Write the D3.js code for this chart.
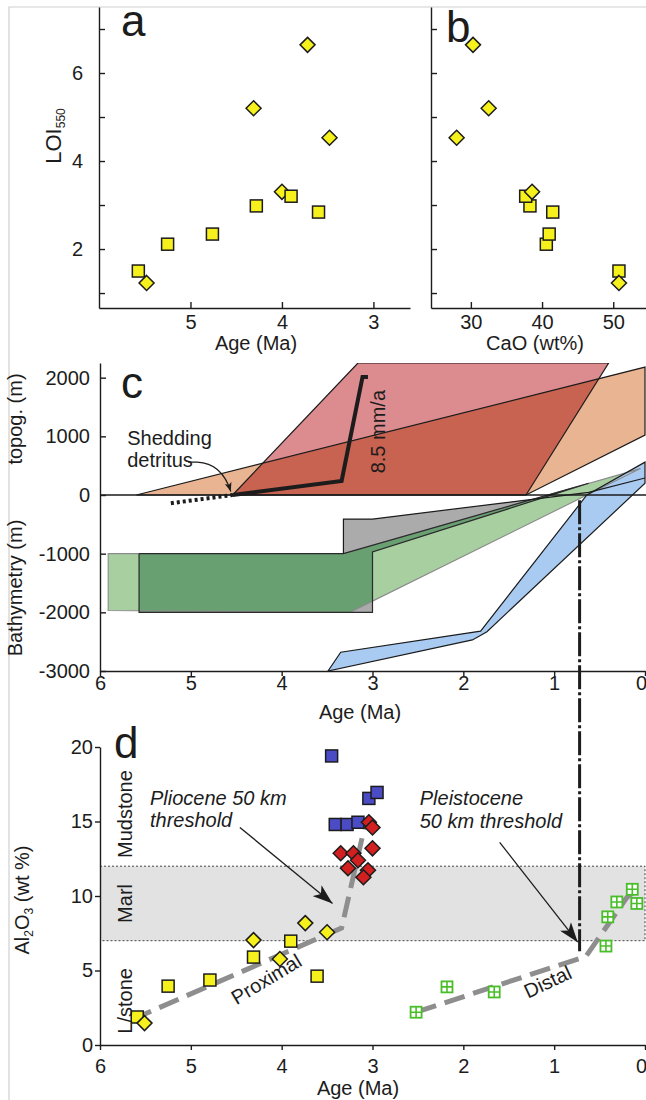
<!DOCTYPE html>
<html>
<head>
<meta charset="utf-8">
<script src="https://cdn.jsdelivr.net/npm/d3@7/dist/d3.min.js"></script>
<style>
  body { margin: 0; background: #fff; }
  svg { display: block; }
</style>
</head>
<body>
<svg id="fig" width="646" height="1100"></svg>
<script>
// Four-panel figure: LOI vs age (a), LOI vs CaO (b), topography/bathymetry
// history (c) and Al2O3 vs age (d).

// --- panels a & b: LOI550 samples (squares / diamonds) ---
const sqAge = [5.57, 5.25, 4.76, 4.28, 3.90, 3.60];
const sqLoi = [1.50, 2.11, 2.34, 2.98, 3.20, 2.84];
const sqCaO = [50.8, 40.6, 41.0, 38.3, 37.7, 41.5];
const dmAge = [5.48, 4.31, 4.00, 3.72, 3.48];
const dmLoi = [1.23, 5.20, 3.30, 6.64, 4.53];
const dmCaO = [50.8, 32.5, 38.6, 30.3, 28.0];
const loiTicks = [1, 2, 3, 4, 5, 6, 7];
const ageTicksA = [5, 4, 3];
const caoTicks = [30, 40, 50];

// --- panel c: polygons as [age Ma, metres] ---
const topoTan = [[5.6, 0], [0, 2180], [0, 1020], [1.31, 0]];
const topoRed = [[4.54, 0], [3.16, 2250], [0.40, 2250], [1.31, 0]];
const bathGray = [[3.32, -2000], [3.32, -410], [3.0, -410], [0.62, 45], [0, 290], [0, 250], [0.62, 30], [3.0, -970], [3.0, -2000]];
const bathGrayEdge = [[3.32, -1000], [3.32, -410], [3.0, -410], [0.62, 45], [0, 290]];
const bathLightGreen = [[5.91, -1970], [5.91, -1000], [3.32, -1000], [0.05, 450], [3.25, -2000]];
const bathDarkGreen = [[5.57, -2000], [3.25, -2000], [3.0, -1810], [3.0, -970], [0.62, 200], [3.32, -1000], [5.57, -1000]];
const bathDarkGreenEdge = [[5.57, -1000], [5.57, -2000], [3.0, -2000], [3.0, -970], [0.62, 200], [3.32, -1000], [5.57, -1000]];
const bathBlue = [[3.49, -3000], [3.35, -2680], [1.81, -2320], [0.64, 0], [0, 560], [0, 200], [1.74, -2330], [1.9, -2470]];
const upliftLine = [[4.54, 0], [3.34, 240], [3.11, 2010], [3.05, 2010]];
const detritusLine = [[5.22, -140], [4.54, 0]];
const thresholdAge = 0.72;
const topoTicks = [2000, 1000, 0, -1000, -2000, -3000];
const ageTicks = [6, 5, 4, 3, 2, 1, 0];

// --- panel d: Al2O3 (wt %) ---
const ylSqAge = [5.59, 5.25, 4.79, 4.31, 3.90, 3.61];
const ylSqAl = [1.88, 3.95, 4.36, 5.90, 6.97, 4.62];
const ylDmAge = [5.51, 4.31, 4.02, 3.74, 3.50];
const ylDmAl = [1.47, 7.04, 5.77, 8.18, 7.57];
const blueAge = [3.45, 3.41, 3.28, 3.16, 3.04, 2.95];
const blueAl = [19.4, 14.8, 14.8, 14.95, 16.55, 16.95];
const redAge = [3.35, 3.27, 3.21, 3.16, 3.04, 3.00, 3.00, 3.05, 3.10];
const redAl = [12.87, 11.86, 12.87, 12.4, 14.95, 14.6, 13.2, 11.73, 11.26];
const greenAge = [2.52, 2.18, 1.66, 0.43, 0.41, 0.31, 0.14, 0.09];
const greenAl = [2.2, 3.9, 3.56, 6.64, 8.6, 9.6, 10.45, 9.5];
const proxAge = [5.65, 3.34, 3.07];
const proxAl = [1.7, 7.85, 15.1];
const distAge = [2.52, 0.65, 0.20, 0.05];
const distAl = [2.2, 5.95, 9.9, 10.6];
const marlBand = [7, 12];
const alTicks = [0, 5, 10, 15, 20];

const FONT = '"Liberation Sans", Arial, Helvetica, sans-serif';
const INK = '#1c1c1c';
const YELLOW = '#F6F01C';
const fmtInt = (d) => String(d);

const svg = d3.select('#fig').attr('font-family', FONT);

const defs = svg.append('defs');
function arrowMarker(id, len, wid) {
  defs.append('marker').attr('id', id)
    .attr('viewBox', `0 0 ${len} ${wid}`).attr('refX', len).attr('refY', wid / 2)
    .attr('markerWidth', len).attr('markerHeight', wid)
    .attr('markerUnits', 'userSpaceOnUse').attr('orient', 'auto')
    .append('path').attr('d', `M0,0L${len},${wid / 2}L0,${wid}L${len * 0.25},${wid / 2}Z`).attr('fill', INK);
}
arrowMarker('bigHead', 20, 14);
arrowMarker('smallHead', 9, 7);

// light frame round the figure
svg.append('path').attr('d', 'M9,1100V7H646').attr('fill', 'none').attr('stroke', '#cfcfcf').attr('stroke-width', 1.2);

function styleAxis(g) {
  g.attr('font-family', FONT).attr('font-size', 20);
  g.select('.domain').attr('stroke', INK).attr('stroke-width', 1.4);
  g.selectAll('.tick line').attr('stroke', INK).attr('stroke-width', 1.4);
  g.selectAll('.tick text').attr('fill', INK);
  return g;
}
// nudge the last age label (0) left so it stays on the page
function nudgeZero(g) {
  g.selectAll('.tick text').filter((d) => d === 0).attr('dx', -4);
}
function text(x, y, str, opt = {}) {
  const t = svg.append('text').attr('x', x).attr('y', y).text(str)
    .attr('font-size', opt.size || 20).attr('fill', INK)
    .attr('text-anchor', opt.anchor || 'start');
  if (opt.italic) t.attr('font-style', 'italic');
  if (opt.rotate != null) t.attr('x', 0).attr('y', 0).attr('transform', `translate(${x},${y}) rotate(${opt.rotate})`);
  return t;
}
function squares(g, xs, ys, sx, sy, fill, size = 12) {
  g.selectAll(null).data(d3.zip(xs, ys)).join('rect')
    .attr('x', (d) => sx(d[0]) - size / 2).attr('y', (d) => sy(d[1]) - size / 2)
    .attr('width', size).attr('height', size)
    .attr('fill', fill).attr('stroke', INK).attr('stroke-width', 1.5);
}
function diamonds(g, xs, ys, sx, sy, fill, r = 7.5) {
  g.selectAll(null).data(d3.zip(xs, ys)).join('path')
    .attr('d', `M0,${-r}L${r},0L0,${r}L${-r},0Z`)
    .attr('transform', (d) => `translate(${sx(d[0])},${sy(d[1])})`)
    .attr('fill', fill).attr('stroke', INK).attr('stroke-width', 1.5);
}

// ================= panel a =================
const xA = d3.scaleLinear().domain([6.0, 2.6]).range([99, 410]);
const yLoi = d3.scaleLinear().domain([0.66, 7.5]).range([308, 7]);
styleAxis(svg.append('g').attr('transform', 'translate(0,308)')
  .call(d3.axisBottom(xA).tickValues(ageTicksA).tickFormat(fmtInt).tickSizeInner(-6).tickSizeOuter(0).tickPadding(7)));
styleAxis(svg.append('g').attr('transform', 'translate(99,0)')
  .call(d3.axisLeft(yLoi).tickValues(loiTicks).tickFormat((d) => (d % 2 === 0 ? d : ''))
    .tickSizeInner(-6).tickSizeOuter(0).tickPadding(16)));
const gA = svg.append('g');
diamonds(gA, dmAge, dmLoi, xA, yLoi, YELLOW);
squares(gA, sqAge, sqLoi, xA, yLoi, YELLOW);
text(121, 36, 'a', { size: 44 });
text(256, 350, 'Age (Ma)', { anchor: 'middle' });
const loiLab = text(61, 136, 'LOI', { size: 22, anchor: 'middle', rotate: -90 });
loiLab.append('tspan').attr('font-size', 12).attr('dy', 4).text('550');

// ================= panel b =================
const xB = d3.scaleLinear().domain([24.4, 54.6]).range([431, 646]);
styleAxis(svg.append('g').attr('transform', 'translate(0,308)')
  .call(d3.axisBottom(xB).tickValues(caoTicks).tickFormat(fmtInt).tickSizeInner(-6).tickSizeOuter(0).tickPadding(7)));
styleAxis(svg.append('g').attr('transform', 'translate(431,0)')
  .call(d3.axisLeft(yLoi).tickValues(loiTicks).tickFormat('').tickSizeInner(-6).tickSizeOuter(0)));
const gB = svg.append('g');
squares(gB, sqCaO, sqLoi, xB, yLoi, YELLOW);
diamonds(gB, dmCaO, dmLoi, xB, yLoi, YELLOW);
text(446, 42, 'b', { size: 44 });
text(535, 350, 'CaO (wt%)', { anchor: 'middle' });

// ================= panel c =================
const xC = d3.scaleLinear().domain([6, 0]).range([100, 645]);
const yC = d3.scaleLinear().domain([-3000, 2250]).range([671, 363]);
defs.append('clipPath').attr('id', 'clipC').append('rect')
  .attr('x', 100).attr('y', 363).attr('width', 546).attr('height', 308);
const lineC = d3.line().x((d) => xC(d[0])).y((d) => yC(d[1]));
const polyC = (pts) => lineC(pts) + 'Z';
const gC = svg.append('g').attr('clip-path', 'url(#clipC)');

gC.append('path').attr('d', polyC(topoTan)).attr('fill', '#E8B491');
gC.append('path').attr('d', polyC(topoRed)).attr('fill', '#DC8B8F').style('mix-blend-mode', 'multiply');
gC.append('path').attr('d', polyC(bathGray)).attr('fill', '#ABABAB');
gC.append('path').attr('d', polyC(bathLightGreen)).attr('fill', '#A7CFA0');
gC.append('path').attr('d', polyC(bathDarkGreen)).attr('fill', '#68A071');
gC.append('path').attr('d', polyC(bathBlue)).attr('fill', '#A9CBF2');

// outlines on top
gC.append('path').attr('d', polyC(bathLightGreen)).attr('fill', 'none').attr('stroke', '#8a8a8a').attr('stroke-width', 1.1);
gC.append('path').attr('d', lineC(bathDarkGreenEdge)).attr('fill', 'none').attr('stroke', '#2a2a2a').attr('stroke-width', 1.2);
gC.append('path').attr('d', lineC(bathGrayEdge)).attr('fill', 'none').attr('stroke', INK).attr('stroke-width', 1.2);
[topoTan, topoRed, bathBlue].forEach((p) => {
  gC.append('path').attr('d', polyC(p)).attr('fill', 'none').attr('stroke', INK).attr('stroke-width', 1.2);
});
gC.append('line').attr('x1', 100).attr('x2', 646).attr('y1', yC(0)).attr('y2', yC(0))
  .attr('stroke', INK).attr('stroke-width', 1.4);
gC.append('path').attr('d', lineC(upliftLine)).attr('fill', 'none').attr('stroke', INK)
  .attr('stroke-width', 4).attr('stroke-linejoin', 'miter');
gC.append('path').attr('d', lineC(detritusLine)).attr('fill', 'none').attr('stroke', INK)
  .attr('stroke-width', 4).attr('stroke-dasharray', '3,3');

nudgeZero(styleAxis(svg.append('g').attr('transform', 'translate(0,671)')
  .call(d3.axisBottom(xC).tickValues(ageTicks).tickFormat(fmtInt).tickSizeInner(5).tickSizeOuter(0).tickPadding(0))));
styleAxis(svg.append('g').attr('transform', 'translate(100,0)')
  .call(d3.axisLeft(yC).tickValues(topoTicks).tickFormat(fmtInt)
    .tickSizeInner(-6).tickSizeOuter(0).tickPadding(10)));

text(121, 398, 'c', { size: 44 });
text(360, 719, 'Age (Ma)', { anchor: 'middle' });
text(22, 419, 'topog. (m)', { anchor: 'middle', rotate: -90 });
text(22, 588, 'Bathymetry (m)', { anchor: 'middle', rotate: -90 });
text(xC(5.7), yC(850), 'Shedding');
text(xC(5.7), yC(475), 'detritus');
text(xC(2.86), yC(1080), '8.5 mm/a', { anchor: 'middle', rotate: -90 });
svg.append('path')
  .attr('d', `M${xC(5.03)},${yC(560)}L${xC(4.93)},${yC(560)}Q${xC(4.66)},${yC(545)} ${xC(4.56)},${yC(60)}`)
  .attr('fill', 'none').attr('stroke', INK).attr('stroke-width', 1.2).attr('marker-end', 'url(#smallHead)');

// ================= panel d =================
const xD = d3.scaleLinear().domain([6, 0]).range([100, 645]);
const yD = d3.scaleLinear().domain([0, 20]).range([1045, 747]);
const gD = svg.append('g');
gD.append('rect').attr('x', 100).attr('y', yD(marlBand[1]))
  .attr('width', 545).attr('height', yD(marlBand[0]) - yD(marlBand[1])).attr('fill', '#E2E2E2');
gD.append('path')
  .attr('d', `M100,${yD(marlBand[1])}H645V${yD(marlBand[0])}H100`)
  .attr('fill', 'none').attr('stroke', '#444').attr('stroke-width', 1).attr('stroke-dasharray', '2,2');

const lineD = d3.line().x((d) => xD(d[0])).y((d) => yD(d[1]));
[[proxAge, proxAl], [distAge, distAl]].forEach(([a, v]) => {
  gD.append('path').attr('d', lineD(d3.zip(a, v))).attr('fill', 'none')
    .attr('stroke', '#8E8E8E').attr('stroke-width', 5).attr('stroke-dasharray', '21,9');
});

nudgeZero(styleAxis(svg.append('g').attr('transform', 'translate(0,1045)')
  .call(d3.axisBottom(xD).tickValues(ageTicks).tickFormat(fmtInt).tickSizeInner(5).tickSizeOuter(0).tickPadding(9))));
styleAxis(svg.append('g').attr('transform', 'translate(100,0)')
  .call(d3.axisLeft(yD).tickValues(alTicks).tickFormat(fmtInt).tickSizeInner(5).tickSizeOuter(0).tickPadding(2)));

squares(gD, ylSqAge, ylSqAl, xD, yD, YELLOW);
diamonds(gD, ylDmAge, ylDmAl, xD, yD, YELLOW);
squares(gD, blueAge, blueAl, xD, yD, '#4B4BC6');
diamonds(gD, redAge, redAl, xD, yD, '#D21F1F');
const gGreen = gD.selectAll(null).data(d3.zip(greenAge, greenAl)).join('g')
  .attr('transform', (d) => `translate(${xD(d[0])},${yD(d[1])})`);
gGreen.append('rect').attr('x', -5.5).attr('y', -5.5).attr('width', 11).attr('height', 11)
  .attr('fill', '#fff').attr('stroke', '#49BE2A').attr('stroke-width', 1.8);
gGreen.append('path').attr('d', 'M0,-5.5V5.5M-5.5,0H5.5').attr('stroke', '#49BE2A').attr('stroke-width', 1.6);

// threshold: dashed line through panels c and d
svg.append('line').attr('x1', xC(thresholdAge)).attr('x2', xC(thresholdAge))
  .attr('y1', yC(-90)).attr('y2', yD(6.3))
  .attr('stroke', INK).attr('stroke-width', 3).attr('stroke-dasharray', '24,3,3,3');

text(114, 758, 'd', { size: 44 });
text(358, 1095, 'Age (Ma)', { anchor: 'middle' });
const alLab = text(29, 900, 'Al', { anchor: 'middle', rotate: -90 });
alLab.append('tspan').attr('font-size', 12).attr('dy', 4).text('2');
alLab.append('tspan').attr('dy', -4).text('O');
alLab.append('tspan').attr('font-size', 12).attr('dy', 4).text('3');
alLab.append('tspan').attr('dy', -4).text(' (wt %)');
text(xD(5.73) + 7, yD(15.5), 'Mudstone', { anchor: 'middle', rotate: -90 });
text(xD(5.73) + 7, yD(9.5), 'Marl', { anchor: 'middle', rotate: -90 });
text(xD(5.73) + 7, yD(2.96), 'L/stone', { anchor: 'middle', rotate: -90 });
text(xD(4.13), yD(4.02), 'Proximal', { anchor: 'middle', rotate: -31 });
text(xD(1.04), yD(3.82), 'Distal', { anchor: 'middle', rotate: -25 });
text(xD(5.45), yD(16.1), 'Pliocene 50 km', { italic: true });
text(xD(5.45), yD(14.6), 'threshold', { italic: true });
text(xD(2.48), yD(16.1), 'Pleistocene', { italic: true });
text(xD(2.48), yD(14.55), '50 km threshold', { italic: true });
svg.append('line').attr('x1', xD(4.46)).attr('y1', yD(14.6)).attr('x2', xD(3.44)).attr('y2', yD(9.5))
  .attr('stroke', INK).attr('stroke-width', 1.3).attr('marker-end', 'url(#bigHead)');
svg.append('line').attr('x1', xD(1.6)).attr('y1', yD(13.6)).attr('x2', xD(0.74)).attr('y2', yD(6.9))
  .attr('stroke', INK).attr('stroke-width', 1.3).attr('marker-end', 'url(#bigHead)');
</script>
</body>
</html>
